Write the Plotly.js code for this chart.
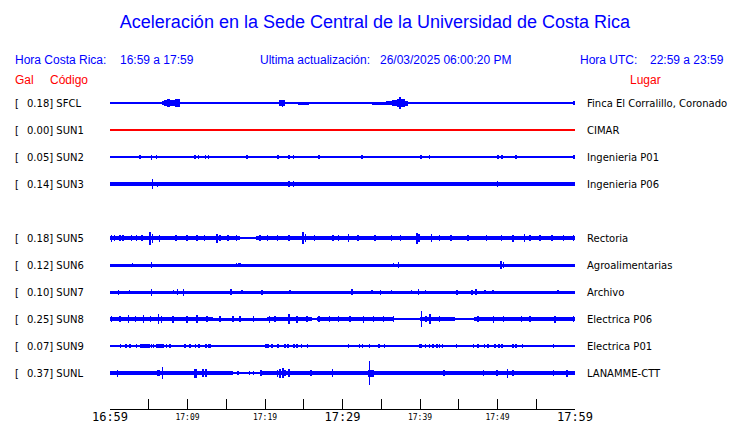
<!DOCTYPE html>
<html>
<head>
<meta charset="utf-8">
<script src="https://cdn.plot.ly/plotly-3.0.1.min.js"></script>
<style>html,body{margin:0;padding:0;background:#fff;}#chart{width:740px;height:423px;}</style>
</head>
<body>
<div id="chart"></div>
<script>
// ---------- DATA ----------
const stations = ['SFCL','SUN1','SUN2','SUN3','SUN5','SUN6','SUN7','SUN8','SUN9','SUNL'];
const peakGal  = ['0.18','0.00','0.05','0.14','0.18','0.12','0.10','0.25','0.07','0.37'];
const places   = ['Finca El Corralillo, Coronado','CIMAR','Ingenieria P01','Ingenieria P06','Rectoria','Agroalimentarias','Archivo','Electrica P06','Electrica P01','LANAMME-CTT'];
const rowIndex = [0,1,2,3,5,6,7,8,9,10];
const traceColors = ['#0000ff','#ff0000','#0000ff','#0000ff','#0000ff','#0000ff','#0000ff','#0000ff','#0000ff','#0000ff'];

const tickMinutes   = [0,5,10,15,20,25,30,35,40,45,50,55,60];
const majorTickVals = [0,30,60];
const majorTickText = ['16:59','17:29','17:59'];
const minorTickVals = [10,20,40,50];
const minorTickText = ['17:09','17:19','17:39','17:49'];

// envelope segments [startMin, endMin, halfAmplitude] and spikes [min, halfAmplitude]
const sfclBands = [[0,60,0.7],[6.71,6.97,1.7],[6.97,7.9,3.3],[7.3,7.7,4.2],[7.9,8.4,2.7],[8.4,9.03,3.8],[8.6,8.8,4.3],
  [21.8,22.6,2.7],[22.2,22.35,3.5],[22.6,23.2,1.3],[23.45,24.1,1.3],[24.3,25.7,1.5],
  [33.8,35.6,1.5],[35.6,36.35,2.2],[36.35,37.0,3.0],[37.0,38.05,4.3],[37.3,37.6,5.6],[38.05,38.5,2.5]];
const sfclSpikes = [[45.6,1.3],[59.9,1.6]];

const sun1Bands = [[0,60,0.6]];
const sun1Spikes = [];

const sun2Bands = [[0,60,0.6]];
const sun2Spikes = [[3.87,1.8],[4.95,1.3],[5.38,2.5],[6.0,1.8],[10.6,1.3],[11.0,1.8],[11.4,1.8],[12.3,1.8],[12.7,1.8],
  [17.7,1.8],[20.9,1.1],[21.7,1.8],[23.1,1.8],[23.65,1.8],[27.0,1.8],[32.5,1.8],[40.1,1.8],[41.2,1.8],
  [50.0,1.9],[50.1,1.9],[50.6,1.6],[52.4,1.6],[59.9,1.6]];

const sun3Bands = [[0,60,1.7]];
const sun3Spikes = [[5.46,5],[6.1,2.5],[17.7,2.2],[23.1,3.3],[23.65,2.7],[33.5,2.2],[40.2,2.3],[47.0,1.9],[50.0,3],[51.8,2.2],[54.1,2.2]];

const sun5Bands = [[0,16.8,2.4],[16.8,18.9,1.4],[18.9,60,2.4]];
const sun5Spikes = [[0.2,3.5],[0.6,3],[1.3,3],[1.7,3],[2.8,2.8],[3.4,3],[4.1,2.8],[5.16,6.5],[5.5,4.5],[6.37,3.5],[8.5,3],
  [9.97,3],[11.2,3],[12.2,3],[13.8,4.5],[14.2,3],[15.2,3],[16.3,3],[19.35,3],[20.3,3],[21.6,2.8],[23.1,3],[24.9,6],
  [25.2,4],[26.4,3],[28.8,3],[29.5,3],[30.75,4],[32.0,3],[34.2,3],[36.3,3],[37.5,3],[39.6,5.5],[39.9,4],[41.5,4],
  [42.5,3],[44.0,3],[46.2,3],[48.6,3],[50.5,3],[52.0,3.5],[53.5,4],[54.2,3],[55.5,3],[57.0,3],[58.5,3],[59.8,3]];

const sun6Bands = [[0,60,1.5]];
const sun6Spikes = [[2.9,2],[5.33,2.7],[16.3,2],[16.6,2],[16.8,1.8],[36.6,1.8],[37.2,3],[50.45,4.3],[50.75,3]];

const sun7Bands = [[0,60,1.5]];
const sun7Spikes = [[1.08,2.5],[2.5,2],[5.33,3.5],[8.2,2.3],[8.7,2.7],[9.46,3.5],[15.6,2.7],[17.0,2],[19.6,2.5],[23.2,2.3],
  [31.2,2.7],[33.8,2],[34.9,2.5],[36.3,2],[38.9,2],[39.8,2.7],[40.7,2],[44.8,2.5],[46.7,2.5],[47.2,2.7],[48.4,2],[49.4,2],[57.8,2]];

const sun8Bands = [[0,13.3,2.1],[13.3,20.3,1.5],[20.3,26,2.1],[26,26.7,1.0],[26.7,36.6,2.1],[36.6,40,1.3],[40,44.5,2.1],[44.5,47,1.3],[47,60,2.1]];
const sun8Spikes = [[0.2,3],[1.29,3],[2.37,4],[3.3,3],[4.3,4.3],[5.2,3],[6.24,5.3],[6.67,3.5],[8.1,3.5],[9.9,3.5],[11.2,4],[12.5,3],
  [14.2,3],[15.9,3],[16.8,3],[18.5,3],[20.6,3.5],[21.3,3],[23.1,5],[24.1,3.5],[25.4,3],[27.0,3],[28.3,3],[29.5,3],
  [31.0,3],[32.7,3.5],[34.0,3],[35.3,2.7],[36.6,2.7],[40.2,8.3],[40.8,3],[41.3,5.3],[42.5,3],[47.5,3.3],[49.5,3.5],
  [50.75,3],[53.1,3],[54.2,2.7],[57.4,3.5],[59.8,2.7]];

const sun9Bands = [[0,60,0.6],[3.87,5.16,1.6],[5.94,6.97,1.8],[23.6,23.9,1.6],[39.9,40.3,2.4],[50.1,50.3,1.9]];
const sun9Spikes = [[1.38,1.7],[2.06,1.7],[2.58,1.7],[3.44,1.7],[5.38,1.7],[5.6,1.7],[7.3,1.7],[7.74,1.7],[9.68,1.7],[10.3,1.7],
  [11.05,1.7],[11.5,1.7],[12.4,1.7],[12.7,1.9],[12.9,1.7],[20.1,1.7],[20.4,1.7],[20.9,1.7],[21.7,1.7],[22.6,1.7],[23.0,1.7],
  [24.1,1.7],[24.7,1.7],[25.5,1.7],[30.75,1.7],[32.2,1.7],[32.6,1.7],[33.5,1.7],[34.7,1.7],[35.4,1.7],[40.7,1.7],[41.2,1.7],
  [41.7,1.7],[42.2,1.7],[42.5,1.7],[42.9,1.9],[44.7,1.7],[46.9,1.7],[47.5,1.7],[48.3,1.7],[48.8,1.7],[49.7,1.7],[50.6,1.7],
  [52.0,1.7],[52.4,1.7],[53.2,1.7],[57.2,1.7]];

const sunlBands = [[0,15.9,1.7],[15.9,19.4,1.3],[19.4,60,1.7],[6.1,6.5,3],[10.9,11.2,4.5],[33.3,34,3.5]];
const sunlSpikes = [[0.99,3.5],[2.06,2],[2.8,2],[3.3,2.3],[4.43,2],[4.95,2],[5.5,2],[6.75,6.3],[7.65,2.3],[8.7,2],[10.1,2.3],
  [10.5,2.3],[12.0,4.3],[12.4,4.3],[13.3,2.3],[16.5,2],[18.0,2],[18.5,2],[19.5,2.7],[21.6,3.5],[21.9,4.5],[22.3,5.3],
  [22.6,3.3],[23.1,4],[24.2,2.3],[25.9,2.7],[28.7,3.7],[29.0,2.3],[33.5,12],[35.7,2],[37.4,2],[38.6,2.3],[40.8,2.3],
  [41.3,2.3],[43.1,3.3],[44.9,2],[46.7,2],[48.2,3],[49.9,2.7],[51.3,4.5],[52.0,3],[53.5,2],[55.5,2],[57.2,2.7],[59.0,3.5]];

const allBands  = [sfclBands,sun1Bands,sun2Bands,sun3Bands,sun5Bands,sun6Bands,sun7Bands,sun8Bands,sun9Bands,sunlBands];
const allSpikes = [sfclSpikes,sun1Spikes,sun2Spikes,sun3Spikes,sun5Spikes,sun6Spikes,sun7Spikes,sun8Spikes,sun9Spikes,sunlSpikes];

// ---------- LAYOUT CONSTANTS ----------
const W = 740, H = 423;
const PL = 110, PR = 575, PT = 90, PB = 409;
const ROW = 27;          // px between rows
const SPIKE_W = 0.2;     // minutes
const px2x = p => (p - PL) / (PR - PL);
const py2y = p => (PB - p) / (PB - PT);
const BLUE = '#0000ff', RED = '#ff0000';

// ---------- TRACES ----------
const traces = [];
stations.forEach((s, i) => {
  const c = rowIndex[i] * ROW;
  const segs = allBands[i].map(b => [b[0], b[1], b[2]])
    .concat(allSpikes[i].map(k => [k[0] - SPIKE_W/2, k[0] + SPIKE_W/2, k[1]]));
  traces.push({
    type: 'bar', name: s, showlegend: false, hoverinfo: 'skip',
    x: segs.map(g => (g[0] + g[1]) / 2),
    width: segs.map(g => g[1] - g[0]),
    base: segs.map(g => c - g[2]),
    y: segs.map(g => 2 * g[2]),
    marker: {color: traceColors[i], line: {width: 0}},
    xaxis: 'x', yaxis: 'y'
  });
});
// invisible trace to activate the minor-label axis
traces.push({type:'scatter', x:[0,60], y:[0,0], xaxis:'x2', yaxis:'y', mode:'markers',
  marker:{opacity:0}, showlegend:false, hoverinfo:'skip'});

// ---------- ANNOTATIONS ----------
const ann = [];
function txt(text, xpx, ypx, opts) {
  ann.push(Object.assign({
    text: text, xref: 'paper', yref: 'paper', x: px2x(xpx), y: py2y(ypx),
    xanchor: 'left', yanchor: 'middle', showarrow: false, borderpad: 0, borderwidth: 0,
    font: {family: 'Liberation Sans, Arial, sans-serif', size: 12, color: BLUE}
  }, opts || {}));
}
const hdrY = 60;
txt('Hora Costa Rica:', 15, hdrY);
txt('16:59 a 17:59', 120, hdrY);
txt('Ultima actualización:', 260, hdrY);
txt('26/03/2025 06:00:20 PM', 380, hdrY);
txt('Hora UTC:', 580, hdrY);
txt('22:59 a 23:59', 650, hdrY);
const redFont = {family: 'Liberation Sans, Arial, sans-serif', size: 12, color: RED};
txt('Gal', 15, 80, {font: redFont});
txt('Código', 50, 80, {font: redFont});
txt('Lugar', 630, 80, {font: redFont});

const lblFont = {family: 'DejaVu Sans, sans-serif', size: 10, color: '#000'};
stations.forEach((s, i) => {
  const yc = 103 + rowIndex[i] * ROW;
  txt('[', 15, yc, {font: lblFont});
  txt(peakGal[i] + '] ' + s, 27, yc, {font: lblFont});
  txt(places[i], 587, yc, {font: lblFont});
});

// ---------- LAYOUT ----------
const layout = {
  width: W, height: H,
  margin: {l: PL, r: W - PR, t: PT, b: H - PB, pad: 0},
  paper_bgcolor: '#fff', plot_bgcolor: '#fff',
  barmode: 'overlay', bargap: 0,
  showlegend: false,
  title: {
    text: 'Aceleración en la Sede Central de la Universidad de Costa Rica',
    font: {family: 'Liberation Sans, Arial, sans-serif', size: 18, color: BLUE},
    xref: 'container', yref: 'container', x: 375 / W, y: 1 - 22 / H,
    xanchor: 'center', yanchor: 'middle'
  },
  xaxis: {
    range: [0, 60], autorange: false, fixedrange: true,
    tickmode: 'array', tickvals: tickMinutes,
    ticktext: tickMinutes.map(m => { const k = majorTickVals.indexOf(m); return k >= 0 ? majorTickText[k] : ''; }),
    ticks: 'inside', ticklen: 10, tickwidth: 1, tickcolor: '#000',
    showline: true, linecolor: '#000', linewidth: 1,
    showgrid: false, zeroline: false, ticklabelstandoff: -3,
    tickfont: {family: 'DejaVu Sans Mono, monospace', size: 12, color: '#000'}
  },
  xaxis2: {
    overlaying: 'x', side: 'bottom', anchor: 'y',
    range: [0, 60], autorange: false, fixedrange: true,
    tickmode: 'array', tickvals: minorTickVals, ticktext: minorTickText,
    ticks: '', showline: false, showgrid: false, zeroline: false, ticklabelstandoff: 2,
    tickfont: {family: 'DejaVu Sans Mono, monospace', size: 8, color: '#000'}
  },
  yaxis: {
    range: [PB - 103, PT - 103], autorange: false, fixedrange: true,
    visible: false, showgrid: false, zeroline: false
  },
  annotations: ann
};

Plotly.newPlot('chart', traces, layout, {staticPlot: true, displayModeBar: false});
</script>
</body>
</html>
